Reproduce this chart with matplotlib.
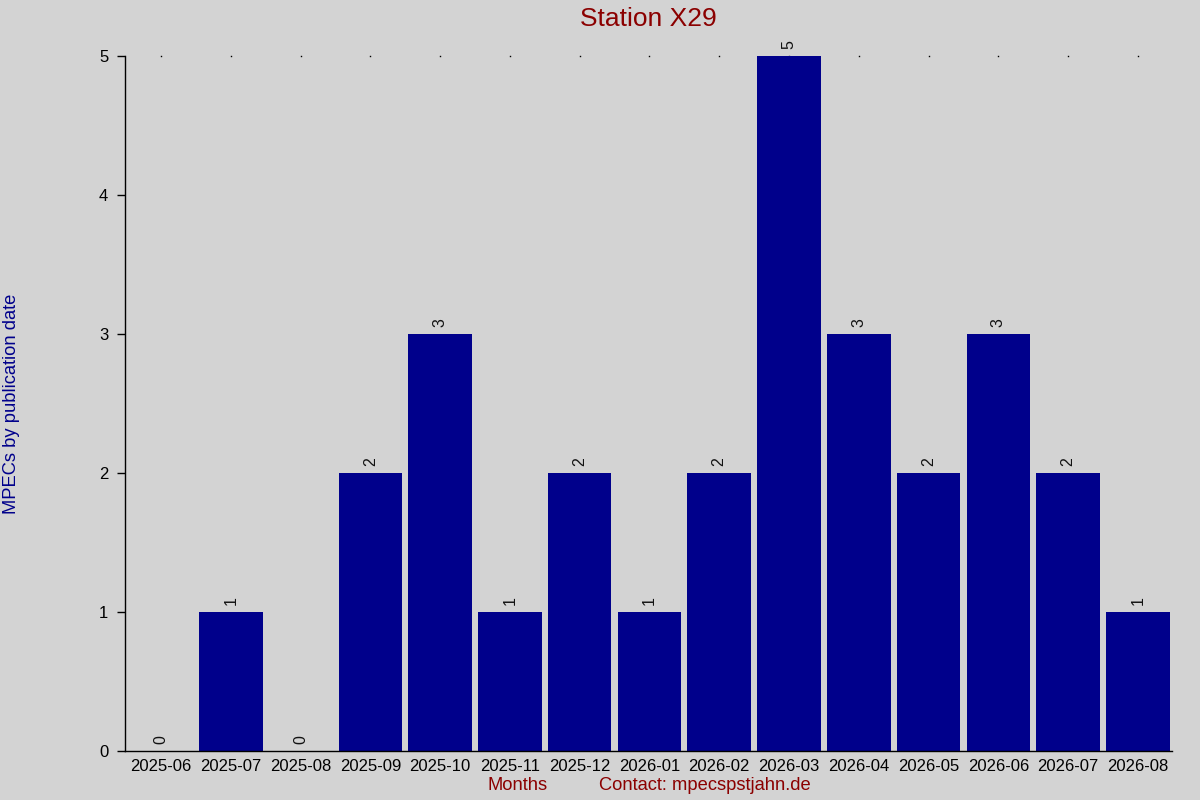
import matplotlib
matplotlib.use("Agg")
import matplotlib.pyplot as plt

months = ["2025-06", "2025-07", "2025-08", "2025-09", "2025-10", "2025-11", "2025-12",
          "2026-01", "2026-02", "2026-03", "2026-04", "2026-05", "2026-06", "2026-07", "2026-08"]
counts = [0, 1, 0, 2, 3, 1, 2, 1, 2, 5, 3, 2, 3, 2, 1]
yticks = [0, 1, 2, 3, 4, 5]

plt.rcParams['font.family'] = ['Liberation Sans', 'DejaVu Sans']
BG = '#d3d3d3'
fig = plt.figure(figsize=(12, 8), dpi=100, facecolor=BG)
ax = fig.add_axes([0.1042, 0.06125, 0.8725, 0.86875], facecolor=BG)

x = list(range(len(months)))
ax.bar(x, counts, width=0.91, color='#00008b', zorder=2)
for xi, c in zip(x, counts):
    ax.annotate(str(c), (xi, c), xytext=(0, 5), textcoords='offset points',
                rotation=90, ha='center', va='bottom', fontsize=11.5, color='#111111')
# dotted marks at top
ax.plot(x, [5] * len(x), linestyle='none', marker='s', markersize=1.0,
        markeredgewidth=0, color='black', zorder=1, clip_on=False)

ax.set_xlim(-0.516, 14.49)
ax.set_ylim(0, 5)
ax.set_xticks(x)
ax.set_xticklabels(months, fontsize=12)
ax.set_yticks(yticks)
ax.set_yticklabels([str(v) for v in yticks], fontsize=12)
ax.tick_params(axis='x', length=0, pad=6)
ax.tick_params(axis='y', length=6, width=1, pad=6, direction='out')
for s in ['top', 'right']:
    ax.spines[s].set_visible(False)
for s in ['left', 'bottom']:
    ax.spines[s].set_linewidth(1)

fig.text(0.5404, 0.976, "Station X29", fontsize=19, color='#8b0000', ha='center', va='center')
fig.text(0.0095, 0.4956, "MPECs by publication date", fontsize=13.2, color='#00008b',
         rotation=90, ha='center', va='center')
fig.text(0.431, 0.018, "Months", fontsize=13.2, color='#8b0000', ha='center', va='center')
fig.text(0.499, 0.018, "Contact: mpecspstjahn.de", fontsize=13.2, color='#8b0000',
         ha='left', va='center')

fig.savefig("out.png", dpi=100, facecolor=BG)
